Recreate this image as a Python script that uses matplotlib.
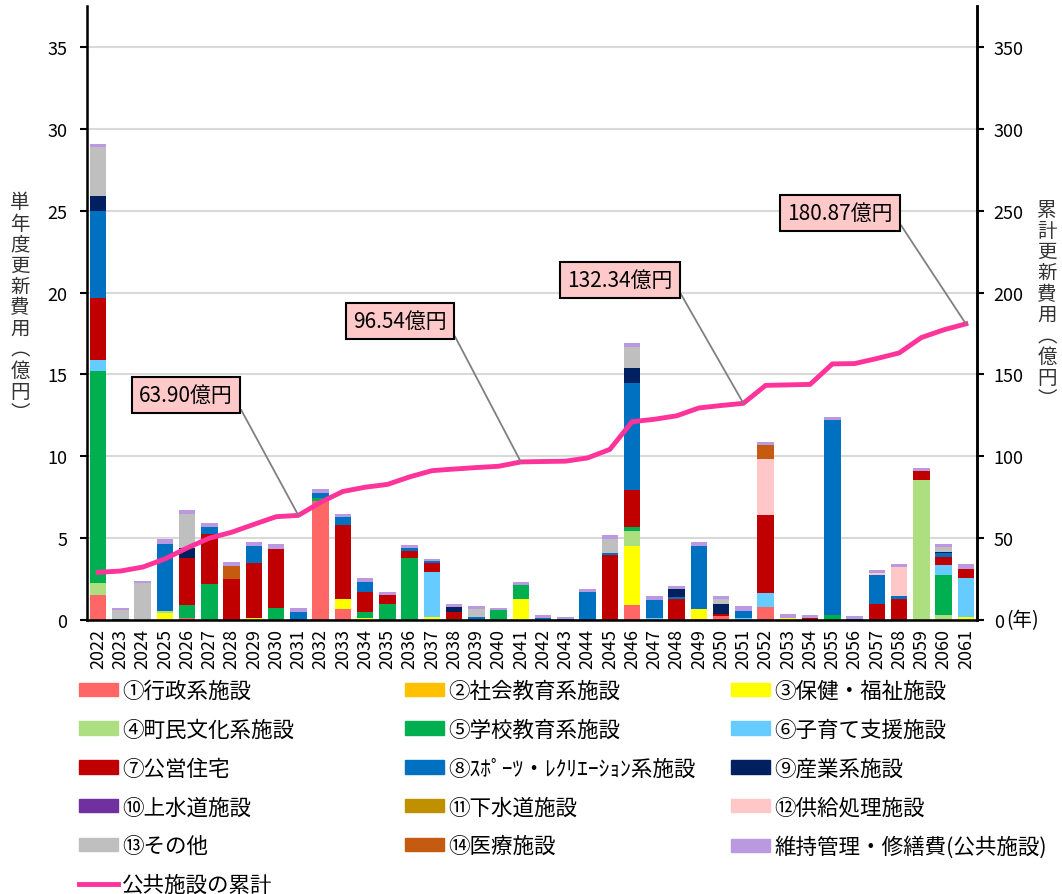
import matplotlib.pyplot as plt
from matplotlib.patches import Patch
from matplotlib.lines import Line2D
import numpy as np

plt.rcParams['font.family'] = ['Noto Sans CJK JP', 'DejaVu Sans']

years = [str(y) for y in range(2022, 2062)]

# 単年度更新費用（億円）: 2022 ... 2061
s01 = [1.5, 0, 0, 0, 0.1, 0, 0, 0, 0, 0,
       7.27, 0.65, 0, 0, 0, 0, 0, 0, 0, 0,
       0, 0, 0, 0, 0.9, 0, 0, 0.08, 0.25, 0,
       0.82, 0, 0, 0, 0, 0, 0, 0, 0, 0]
s02 = [0] * 40
s03 = [0, 0, 0, 0.41, 0, 0, 0, 0.13, 0, 0,
       0, 0.66, 0.1, 0, 0, 0.18, 0, 0, 0, 1.31,
       0, 0, 0, 0, 3.62, 0, 0, 0.57, 0, 0,
       0, 0.1, 0, 0, 0, 0, 0, 0, 0, 0.2]
s04 = [0.73, 0, 0, 0.14, 0, 0, 0, 0, 0, 0,
       0, 0, 0, 0, 0, 0, 0, 0, 0, 0,
       0, 0, 0, 0, 0.92, 0, 0, 0, 0, 0,
       0, 0, 0, 0, 0, 0, 0, 8.53, 0.29, 0]
s05 = [13.0, 0, 0, 0, 0.82, 2.18, 0, 0, 0.76, 0,
       0.21, 0, 0.41, 0.96, 3.81, 0, 0.05, 0, 0.6, 0.81,
       0, 0, 0, 0, 0.24, 0, 0, 0, 0, 0,
       0, 0, 0, 0.29, 0, 0, 0, 0, 2.46, 0]
s06 = [0.63, 0, 0, 0, 0, 0, 0, 0, 0, 0,
       0, 0, 0, 0, 0, 2.75, 0, 0, 0, 0,
       0, 0, 0, 0, 0, 0.1, 0, 0, 0, 0.15,
       0.85, 0, 0, 0, 0, 0, 0, 0, 0.61, 2.39]
s07 = [3.82, 0, 0, 0, 2.89, 3.06, 2.48, 3.37, 3.6, 0,
       0, 4.52, 1.21, 0.57, 0.41, 0.57, 0.44, 0, 0, 0,
       0, 0, 0, 3.95, 2.24, 0, 1.26, 0, 0.12, 0,
       4.73, 0, 0.12, 0, 0, 0.96, 1.26, 0.57, 0.51, 0.55]
s08 = [5.3, 0.08, 0, 4.12, 0, 0.41, 0, 1.0, 0, 0.49,
       0.3, 0.46, 0.63, 0, 0.18, 0.08, 0, 0.2, 0, 0,
       0.15, 0.05, 1.72, 0.15, 6.58, 1.1, 0.14, 3.87, 0, 0.4,
       0, 0, 0, 11.9, 0.08, 1.79, 0.21, 0, 0.2, 0]
s09 = [0.92, 0, 0, 0, 0.61, 0, 0, 0, 0, 0,
       0, 0, 0, 0, 0, 0, 0.31, 0, 0, 0,
       0, 0, 0, 0, 0.88, 0, 0.48, 0, 0.59, 0,
       0, 0, 0, 0, 0, 0, 0, 0, 0.11, 0]
s10 = [0] * 40
s11 = [0] * 40
s12 = [0] * 30 + [3.46, 0, 0, 0, 0, 0.1, 1.79, 0, 0, 0]
s13 = [3.0, 0.53, 2.24, 0, 2.04, 0, 0, 0, 0, 0,
       0, 0, 0, 0, 0, 0, 0, 0.45, 0, 0,
       0, 0, 0, 0.87, 1.32, 0, 0, 0, 0.3, 0,
       0, 0, 0, 0, 0, 0, 0, 0, 0.28, 0]
s14 = [0, 0, 0, 0, 0, 0, 0.82, 0, 0, 0,
       0, 0, 0, 0, 0, 0, 0, 0, 0, 0,
       0, 0, 0, 0, 0, 0, 0, 0, 0, 0,
       0.81, 0, 0, 0, 0, 0, 0, 0, 0, 0]
maint = [0.2, 0.15, 0.14, 0.26, 0.24, 0.25, 0.25, 0.24, 0.26, 0.27,
         0.2, 0.21, 0.22, 0.16, 0.16, 0.17, 0.16, 0.21, 0.16, 0.23,
         0.14, 0.13, 0.2, 0.21, 0.2, 0.27, 0.2, 0.25, 0.2, 0.3,
         0.23, 0.25, 0.17, 0.23, 0.17, 0.21, 0.14, 0.21, 0.16, 0.26]

# 公共施設の累計（億円）
cumulative = [29.1, 29.9, 32.3, 37.3, 44.0, 50.0, 53.6, 58.4, 63.1, 63.90,
              71.9, 78.5, 81.1, 82.8, 87.4, 91.2, 92.2, 93.1, 93.9, 96.54,
              96.8, 97.0, 99.0, 104.2, 121.1, 122.6, 124.7, 129.5, 131.0, 132.34,
              143.3, 143.6, 143.9, 156.4, 156.6, 159.7, 163.1, 172.5, 177.2, 180.87]

labels = ['①行政系施設', '②社会教育系施設', '③保健・福祉施設', '④町民文化系施設',
          '⑤学校教育系施設', '⑥子育て支援施設', '⑦公営住宅', '⑧ｽﾎﾟｰﾂ・ﾚｸﾘｴｰｼｮﾝ系施設',
          '⑨産業系施設', '⑩上水道施設', '⑪下水道施設', '⑫供給処理施設',
          '⑬その他', '⑭医療施設', '維持管理・修繕費(公共施設)']
colors = ['#FF6666', '#FFC000', '#FFFF00', '#ADDF80', '#00B050', '#66CCFF',
          '#C00000', '#0070C0', '#002060', '#7030A0', '#BF9000', '#FFC7C7',
          '#BFBFBF', '#C55A11', '#BB99E0']
series = [s01, s02, s03, s04, s05, s06, s07, s08, s09, s10, s11, s12, s13, s14, maint]
line_label = '公共施設の累計'
line_color = '#FF3399'

callouts = [(9, '63.90億円', 3.96, 137.4), (19, '96.54億円', 13.57, 182.6),
            (29, '132.34億円', 23.46, 207.7), (39, '180.87億円', 33.35, 248.6)]

fig = plt.figure(figsize=(10.62, 8.95), dpi=100)
ax = fig.add_axes([87 / 1062, 274 / 895, 890 / 1062, 614 / 895])
x = np.arange(len(years))

bottom = np.zeros(len(years))
for vals, c in zip(series, colors):
    ax.bar(x, vals, 0.75, bottom=bottom, color=c, linewidth=0, zorder=2)
    bottom += np.array(vals)

ax.set_xlim(-0.5, 39.5)
ax.set_ylim(0, 37.5)
ax.set_yticks(range(0, 36, 5))
ax.set_xticks(x)
ax.set_xticklabels(years, rotation=90, fontsize=13)
ax.tick_params(axis='x', length=0, pad=6)
ax.tick_params(axis='y', labelsize=13, length=5, width=1.5, pad=9)
ax.yaxis.grid(True, color='#D9D9D9', lw=1.5, zorder=0)
ax.set_axisbelow(True)
ax.spines['top'].set_visible(False)
for side in ['left', 'bottom', 'right']:
    ax.spines[side].set_linewidth(1.8)

ax2 = ax.twinx()
ax2.plot(x, cumulative, color=line_color, lw=3.5, zorder=3)
ax2.set_ylim(0, 375)
ax2.set_yticks(range(0, 351, 50))
ax2.tick_params(axis='y', labelsize=13, length=5, width=1.5, pad=7)
ax2.spines['top'].set_visible(False)
ax2.spines['right'].set_linewidth(1.8)

for idx, txt, tx, ty in callouts:
    ax2.annotate(txt, xy=(idx, cumulative[idx]), xytext=(tx, ty), textcoords='data',
                 ha='center', va='center', fontsize=15, zorder=5,
                 bbox=dict(boxstyle='square,pad=0.35', fc='#FFC9C9', ec='black', lw=1.5),
                 arrowprops=dict(arrowstyle='-', color='#808080', lw=1.3,
                                 relpos=(1, 0.5), shrinkA=0, shrinkB=0))

ax2.annotate('(年)', xy=(1, 0), xycoords='axes fraction', xytext=(21, 0),
             textcoords='offset points', ha='left', va='center', fontsize=14)

fig.text(20 / 1062, 1 - 308 / 895, '\n'.join('単年度更新費用︵億円︶'),
         ha='center', va='center', fontsize=14, linespacing=1.0, color='#333333')
fig.text(1047 / 1062, 1 - 305 / 895, '\n'.join('累計更新費用︵億円︶'),
         ha='center', va='center', fontsize=14, linespacing=1.0, color='#333333')

patches = [Patch(color=c, label=l) for c, l in zip(colors, labels)]
line_handle = Line2D([], [], color=line_color, lw=3.5, label=line_label)
groups = [[patches[0], patches[3], patches[6], patches[9], patches[12], line_handle],
          [patches[1], patches[4], patches[7], patches[10], patches[13]],
          [patches[2], patches[5], patches[8], patches[11], patches[14]]]
for grp, xpos in zip(groups, [79, 405, 731]):
    fig.legend(handles=grp, loc='upper left', bbox_to_anchor=(xpos / 1062, 1 - 681 / 895),
               frameon=False, fontsize=15.5, handlelength=1.8, handleheight=0.58,
               handletextpad=0.2, labelspacing=0.78, borderpad=0, borderaxespad=0)

fig.savefig('out.png', dpi=100)
